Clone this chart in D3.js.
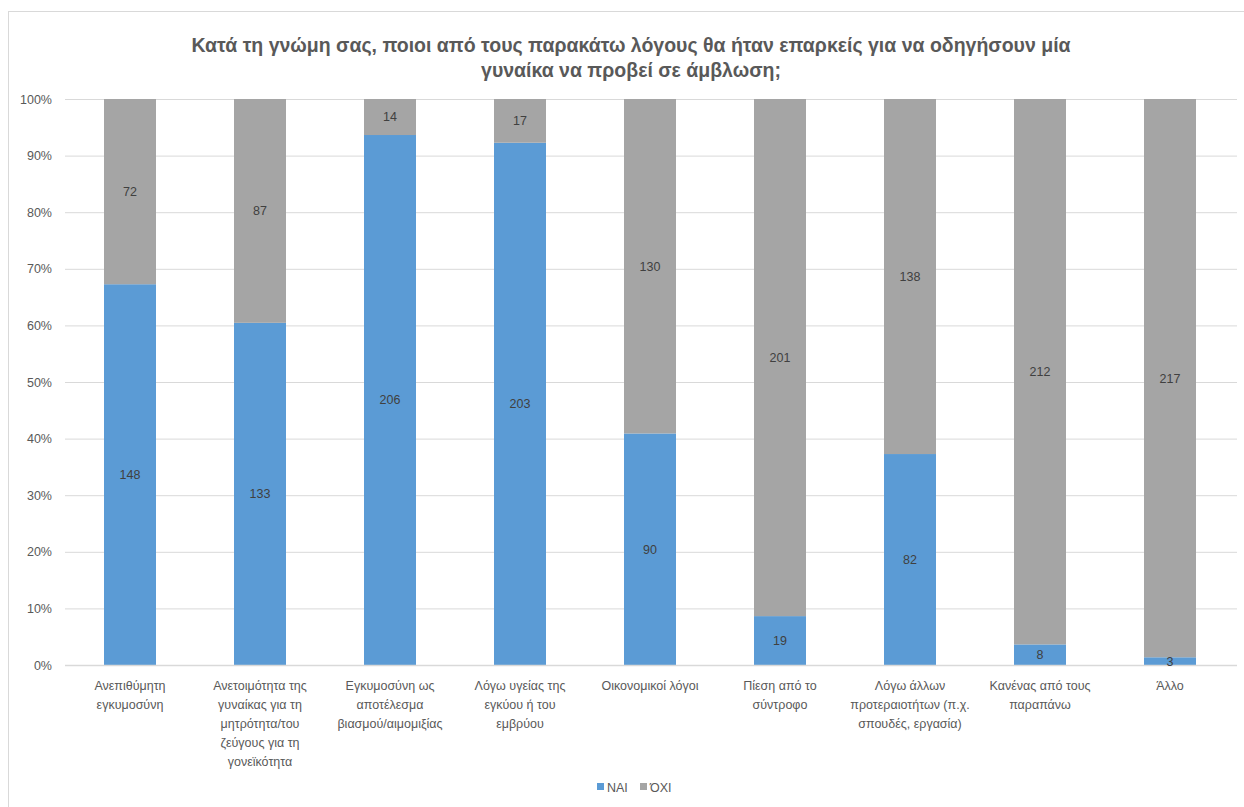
<!DOCTYPE html>
<html>
<head>
<meta charset="utf-8">
<script src="https://cdn.jsdelivr.net/npm/d3@7"></script>
<style>
  html, body { margin: 0; padding: 0; background: #fff; }
  svg { display: block; font-family: "Liberation Sans", Arial, sans-serif; }
</style>
</head>
<body>
<svg id="chart" width="1244" height="807"></svg>
<script>
// Reasons (line breaks follow the category label wrapping)
const categories = [
  "Ανεπιθύμητη\nεγκυμοσύνη",
  "Ανετοιμότητα της\nγυναίκας για τη\nμητρότητα/του\nζεύγους για τη\nγονεϊκότητα",
  "Εγκυμοσύνη ως\nαποτέλεσμα\nβιασμού/αιμομιξίας",
  "Λόγω υγείας της\nεγκύου ή του\nεμβρύου",
  "Οικονομικοί λόγοι",
  "Πίεση από το\nσύντροφο",
  "Λόγω άλλων\nπροτεραιοτήτων (π.χ.\nσπουδές, εργασία)",
  "Κανένας από τους\nπαραπάνω",
  "Άλλο"
];
const yesValues = [148, 133, 206, 203, 90, 19, 82, 8, 3];
const noValues  = [72, 87, 14, 17, 130, 201, 138, 212, 217];
const seriesNames = ["ΝΑΙ", "ΌΧΙ"];
const seriesColors = ["#5B9BD5", "#A5A5A5"];
const yTicks = [0, 0.1, 0.2, 0.3, 0.4, 0.5, 0.6, 0.7, 0.8, 0.9, 1.0];
const titleLines = [
  "Κατά τη γνώμη σας, ποιοι από τους παρακάτω λόγους θα ήταν επαρκείς για να οδηγήσουν μία",
  "γυναίκα να προβεί σε άμβλωση;"
];

const svg = d3.select("#chart");

// Chart frame
svg.append("rect")
  .attr("x", 8.5).attr("y", 11.5)
  .attr("width", 1260).attr("height", 820)
  .attr("fill", "#fff").attr("stroke", "#D9D9D9").attr("stroke-width", 1);

const plot = { left: 65, right: 1235, top: 99, bottom: 665 };

const rows = categories.map((c, i) => ({ cat: c, "ΝΑΙ": yesValues[i], "ΌΧΙ": noValues[i] }));
const stacked = d3.stack().keys(seriesNames).offset(d3.stackOffsetExpand)(rows);

const x = d3.scaleBand().domain(categories).range([plot.left, plot.right])
  .paddingInner(0.6).paddingOuter(0.3);
const y = d3.scaleLinear().domain([0, 1]).range([plot.bottom, plot.top]);
const color = d3.scaleOrdinal().domain(seriesNames).range(seriesColors);

// Gridlines and percentage axis
const yAxis = d3.axisLeft(y).tickValues(yTicks).tickFormat(d3.format(".0%"))
  .tickSize(-(plot.right + 2 - plot.left)).tickPadding(13);
const gy = svg.append("g").attr("transform", `translate(${plot.left},0)`).call(yAxis);
gy.select(".domain").remove();
gy.selectAll(".tick line").attr("stroke", "#D9D9D9").attr("stroke-width", 1);
gy.selectAll(".tick text").attr("fill", "#595959").attr("font-size", 12.5)
  .attr("font-family", "Liberation Sans, Arial, sans-serif");

// Stacked bars
const layers = svg.append("g").selectAll("g").data(stacked).join("g")
  .attr("fill", d => color(d.key));
layers.selectAll("rect").data(d => d).join("rect")
  .attr("x", d => x(d.data.cat))
  .attr("width", x.bandwidth())
  .attr("y", d => y(d[1]))
  .attr("height", d => y(d[0]) - y(d[1]));

// Category axis line
svg.append("line")
  .attr("x1", plot.left).attr("x2", plot.right + 2)
  .attr("y1", plot.bottom + 0.5).attr("y2", plot.bottom + 0.5)
  .attr("stroke", "#D9D9D9").attr("stroke-width", 1.5);

// Value labels in each segment
const labels = svg.append("g").attr("font-size", 12.5).attr("fill", "#404040")
  .attr("text-anchor", "middle");
stacked.forEach(layer => {
  layer.forEach(d => {
    labels.append("text")
      .attr("x", x(d.data.cat) + x.bandwidth() / 2)
      .attr("y", (y(d[0]) + y(d[1])) / 2)
      .attr("dy", "0.35em")
      .text(d.data[layer.key]);
  });
});

// Category labels
const xl = svg.append("g").attr("font-size", 12.5).attr("fill", "#595959")
  .attr("text-anchor", "middle");
categories.forEach(c => {
  const t = xl.append("text").attr("x", x(c) + x.bandwidth() / 2).attr("y", 690);
  c.split("\n").forEach((line, i) => {
    t.append("tspan").attr("x", x(c) + x.bandwidth() / 2).attr("dy", i === 0 ? 0 : 19).text(line);
  });
});

// Title
const title = svg.append("text").attr("text-anchor", "middle")
  .attr("font-size", 19.5).attr("font-weight", "bold").attr("fill", "#595959");
titleLines.forEach((l, i) => {
  title.append("tspan").attr("x", 631).attr("y", 52 + i * 25).text(l);
});

// Legend
const legendItems = [{ name: seriesNames[0], x: 597 }, { name: seriesNames[1], x: 640 }];
const lg = svg.append("g");
legendItems.forEach(item => {
  lg.append("rect").attr("x", item.x).attr("y", 783).attr("width", 7).attr("height", 7)
    .attr("fill", color(item.name));
  lg.append("text").attr("x", item.x + 10).attr("y", 791.5)
    .attr("font-size", 12.5).attr("fill", "#595959").text(item.name);
});
</script>
</body>
</html>
